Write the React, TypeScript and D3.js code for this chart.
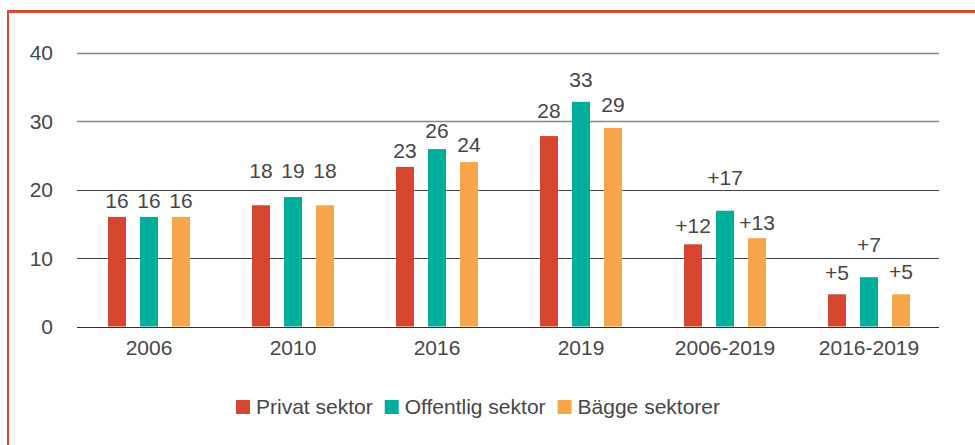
import React, { useEffect, useRef } from "react";
import * as d3 from "d3";

const categories = ["2006", "2010", "2016", "2019", "2006-2019", "2016-2019"];
const seriesNames = ["Privat sektor", "Offentlig sektor", "Bägge sektorer"];
const privat = [16, 17.7, 23.3, 27.8, 12.0, 4.7];
const offentlig = [16, 18.9, 25.9, 32.8, 16.9, 7.2];
const bagge = [16, 17.7, 24.0, 29.0, 12.9, 4.7];
const privatLabels = ["16", "18", "23", "28", "+12", "+5"];
const offentligLabels = ["16", "19", "26", "33", "+17", "+7"];
const baggeLabels = ["16", "18", "24", "29", "+13", "+5"];
const yTicks = [0, 10, 20, 30, 40];

// label lift above bar top, in px (matching reference placement)
const labelLift = [
  [9, 27, 9, 18, 11, 14],
  [9, 19, 11, 15, 26, 25],
  [9, 27, 10, 16, 8, 15],
];

const colors = ["#d6452f", "#00ae9d", "#f9a54a"];
const FONT = "'Liberation Sans', Arial, sans-serif";
const TEXT = "#474747";
const FS = 21;

export default function App() {
  const ref = useRef<SVGSVGElement | null>(null);

  useEffect(() => {
    const svg = d3.select(ref.current);
    svg.selectAll("*").remove();
    const W = 975, H = 445;

    // border (top & left)
    svg.append("line").attr("x1", 8).attr("x2", W).attr("y1", 11.5).attr("y2", 11.5)
      .attr("stroke", "#d94a35").attr("stroke-width", 3);
    svg.append("line").attr("x1", 8).attr("x2", 8).attr("y1", 10).attr("y2", H)
      .attr("stroke", "#d94a35").attr("stroke-width", 2);

    const x = d3.scaleBand<string>().domain(categories).range([77, 941]).padding(0);
    const y = d3.scaleLinear().domain([0, 40]).range([326.5, 52.5]);
    const inner = d3.scaleBand<string>().domain(seriesNames)
      .range([-48, 48]).paddingInner(0.4375).paddingOuter(0.21875);

    // gridlines
    const g = svg.append("g");
    g.selectAll("line.grid").data(yTicks).join("line")
      .attr("x1", 77).attr("x2", 939)
      .attr("y1", (d) => Math.round(y(d)) + 0.5).attr("y2", (d) => Math.round(y(d)) + 0.5)
      .attr("stroke", (d) => (d >= 30 ? "#888" : "#444")).attr("stroke-width", (d) => (d >= 30 ? 1.6 : 1.2));

    g.selectAll("text.yt").data(yTicks).join("text")
      .attr("x", 53).attr("y", (d) => y(d) + 7.5)
      .attr("text-anchor", "end").attr("font-family", FONT).attr("font-size", FS)
      .attr("fill", TEXT).text((d) => String(d));

    const values = [privat, offentlig, bagge];
    const labels = [privatLabels, offentligLabels, baggeLabels];

    seriesNames.forEach((s, si) => {
      const vals = values[si];
      svg.append("g").selectAll("rect").data(categories).join("rect")
        .attr("x", (c) => (x(c)! + x.bandwidth() / 2) + inner(s)!)
        .attr("width", inner.bandwidth())
        .attr("y", (c, i) => y(vals[i]))
        .attr("height", (c, i) => y(0) - y(vals[i]))
        .attr("fill", colors[si]);
      svg.append("g").selectAll("text").data(categories).join("text")
        .attr("x", (c) => (x(c)! + x.bandwidth() / 2) + inner(s)! + inner.bandwidth() / 2)
        .attr("y", (c, i) => y(vals[i]) - labelLift[si][i])
        .attr("text-anchor", "middle").attr("font-family", FONT).attr("font-size", FS)
        .attr("fill", TEXT).text((c, i) => labels[si][i]);
    });

    // redraw zero line on top
    svg.append("line").attr("x1", 77).attr("x2", 939)
      .attr("y1", Math.round(y(0)) + 0.5).attr("y2", Math.round(y(0)) + 0.5)
      .attr("stroke", "#333").attr("stroke-width", 1.2);

    // x labels
    svg.append("g").selectAll("text").data(categories).join("text")
      .attr("x", (c) => x(c)! + x.bandwidth() / 2).attr("y", 355)
      .attr("text-anchor", "middle").attr("font-family", FONT).attr("font-size", FS)
      .attr("fill", TEXT).text((c) => c);

    // legend
    const lg = svg.append("g");
    let cx = 0;
    seriesNames.forEach((s, si) => {
      const it = lg.append("g").attr("transform", `translate(${cx},0)`);
      it.append("rect").attr("x", 0).attr("y", 400).attr("width", 14).attr("height", 14).attr("fill", colors[si]);
      const t = it.append("text").attr("x", 20).attr("y", 414).attr("font-family", FONT)
        .attr("font-size", FS).attr("fill", TEXT).text(s);
      const w = (t.node() as SVGTextElement).getComputedTextLength();
      cx += 20 + w + 12;
    });
    const total = cx - 12;
    lg.attr("transform", `translate(${478 - total / 2},0)`);
  }, []);

  return (
    <svg ref={ref} width={975} height={445}
      style={{ position: "absolute", left: 0, top: 0, background: "#fff" }} />
  );
}
